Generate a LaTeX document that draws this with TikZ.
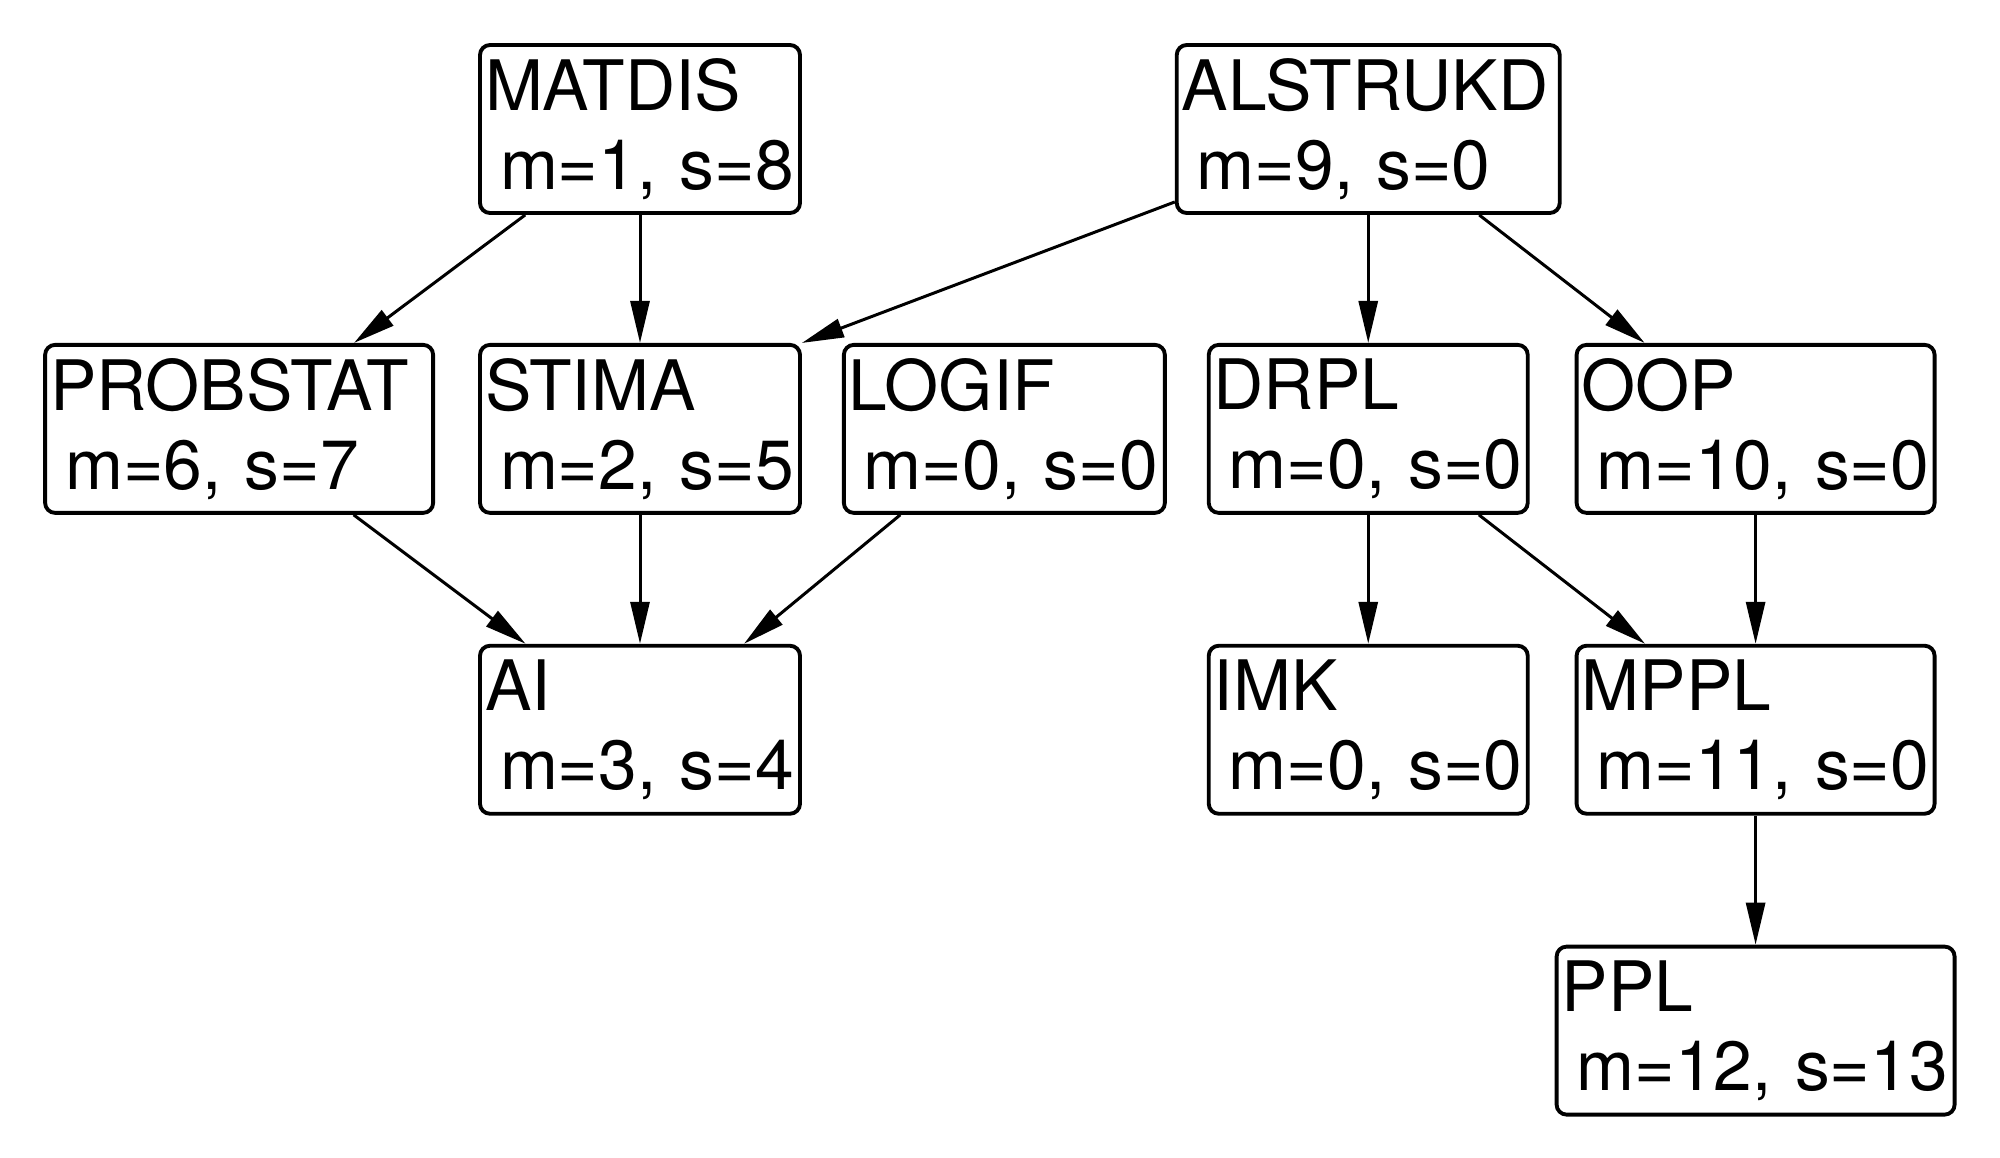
\documentclass[tikz,border=0pt]{standalone}
\usepackage{fontspec}
\setmainfont{TeX Gyre Heros}
\usetikzlibrary{arrows.meta, positioning}

\begin{document}
\begin{tikzpicture}[
    node distance=1.28cm and 0.40cm,
    course/.style={draw, line width=1.1pt, rounded corners=0.1cm, minimum height=1.68cm,
        inner xsep=0.05cm, text width=#1, align=left, font=\fontsize{19.8}{22.5}\selectfont},
    prereq/.style={-{Triangle[length=0.42cm, width=0.19cm]}, line width=0.85pt},
]
\useasboundingbox (0,0) rectangle (20,-11.57);

% Courses
\node[course=3.10cm] (matdis) at (6.40,-1.29) {MATDIS\\\hspace*{0.15cm}m=1,~s=8};
\node[course=3.10cm, below=of matdis] (stima) {STIMA\\\hspace*{0.15cm}m=2,~s=5};
\node[course=3.78cm, left=0.43cm of stima] (probstat) {PROBSTAT\\\hspace*{0.15cm}m=6,~s=7};
\node[course=3.11cm, right=of stima] (logif) {LOGIF\\\hspace*{0.15cm}m=0,~s=0};
\node[course=3.09cm, right=of logif] (drpl) {DRPL\\\hspace*{0.15cm}m=0,~s=0};
\node[course=3.48cm, right=0.45cm of drpl] (oop) {OOP\\\hspace*{0.15cm}m=10,~s=0};
\node[course=3.73cm, above=of drpl] (alstrukd) {ALSTRUKD\\\hspace*{0.15cm}m=9,~s=0};
\node[course=3.10cm, below=1.29cm of stima] (ai) {AI\\\hspace*{0.15cm}m=3,~s=4};
\node[course=3.09cm, below=1.29cm of drpl] (imk) {IMK\\\hspace*{0.15cm}m=0,~s=0};
\node[course=3.48cm, below=1.29cm of oop] (mppl) {MPPL\\\hspace*{0.15cm}m=11,~s=0};
\node[course=3.88cm, below=1.29cm of mppl] (ppl) {PPL\\\hspace*{0.15cm}m=12,~s=13};

% Prerequisites
\draw[prereq] (matdis) -- (probstat);
\draw[prereq] (matdis) -- (stima);
\draw[prereq] (alstrukd) -- (stima.north east);
\draw[prereq] (alstrukd) -- (drpl);
\draw[prereq] (alstrukd) -- (oop);
\draw[prereq] (probstat) -- (ai);
\draw[prereq] (stima) -- (ai);
\draw[prereq] (logif) -- (ai);
\draw[prereq] (drpl) -- (imk);
\draw[prereq] (drpl) -- (mppl);
\draw[prereq] (oop) -- (mppl);
\draw[prereq] (mppl) -- (ppl);

\end{tikzpicture}
\end{document}
